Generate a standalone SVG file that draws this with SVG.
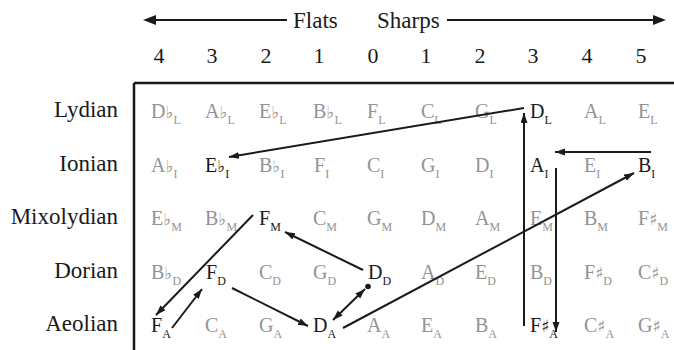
<svg xmlns="http://www.w3.org/2000/svg" width="674" height="350" viewBox="0 0 674 350">
<defs>
<marker id="ah" markerUnits="userSpaceOnUse" markerWidth="11" markerHeight="8" refX="10" refY="3.5" orient="auto-start-reverse"><path d="M0,0 L10,3.5 L0,7 z" fill="#1a1a1a"/></marker>
</defs>
<style>
text{font-family:"Liberation Serif","DejaVu Serif",serif}
.h{font-size:23px;fill:#1a1a1a}
.n{font-size:22px;fill:#1a1a1a;text-anchor:middle}
.r{font-size:23px;fill:#1a1a1a;text-anchor:end}
.c{font-size:20px}
.g{fill:#939393}
.k{fill:#1a1a1a}
.s{font-size:12px}
.a{font-family:"DejaVu Serif",serif;font-size:17px}
.ln{stroke:#1a1a1a;stroke-width:2;fill:none}
.ar{stroke:#1a1a1a;stroke-width:2;fill:none;marker-end:url(#ah)}
</style>
<rect width="674" height="350" fill="#fff"/>
<g id="header">
<line class="ln" x1="153" y1="20" x2="287" y2="20"/>
<path d="M143,20 L156,15 L156,25 z" fill="#1a1a1a"/>
<text class="h" x="293" y="28">Flats</text>
<text class="h" x="377" y="28">Sharps</text>
<line class="ln" x1="447" y1="20" x2="656" y2="20"/>
<path d="M666,20 L653,15 L653,25 z" fill="#1a1a1a"/>
<text class="n" x="159" y="63">4</text>
<text class="n" x="212" y="63">3</text>
<text class="n" x="266" y="63">2</text>
<text class="n" x="319" y="63">1</text>
<text class="n" x="373" y="63">0</text>
<text class="n" x="426" y="63">1</text>
<text class="n" x="480" y="63">2</text>
<text class="n" x="533" y="63">3</text>
<text class="n" x="587" y="63">4</text>
<text class="n" x="641" y="63">5</text>
</g>
<g id="frame">
<line x1="134" y1="83" x2="674" y2="83" stroke="#1a1a1a" stroke-width="2.5"/>
<line x1="134" y1="83" x2="134" y2="350" stroke="#1a1a1a" stroke-width="2.5"/>
</g>
<g id="rowlabels">
<text class="r" x="118" y="117">Lydian</text>
<text class="r" x="118" y="170.5">Ionian</text>
<text class="r" x="118" y="224">Mixolydian</text>
<text class="r" x="118" y="277.5">Dorian</text>
<text class="r" x="118" y="331">Aeolian</text>
</g>
<g id="lydian" class="c">
<text class="g" x="151" y="118">D<tspan class="a">♭</tspan><tspan class="s" dy="6">L</tspan></text>
<text class="g" x="205" y="118">A<tspan class="a">♭</tspan><tspan class="s" dy="6">L</tspan></text>
<text class="g" x="259" y="118">E<tspan class="a">♭</tspan><tspan class="s" dy="6">L</tspan></text>
<text class="g" x="313" y="118">B<tspan class="a">♭</tspan><tspan class="s" dy="6">L</tspan></text>
<text class="g" x="367" y="118">F<tspan class="s" dy="6">L</tspan></text>
<text class="g" x="421" y="118">C<tspan class="s" dy="6">L</tspan></text>
<text class="g" x="475" y="118">G<tspan class="s" dy="6">L</tspan></text>
<text class="k" x="530" y="118">D<tspan class="s" dy="6">L</tspan></text>
<text class="g" x="584" y="118">A<tspan class="s" dy="6">L</tspan></text>
<text class="g" x="638" y="118">E<tspan class="s" dy="6">L</tspan></text>
</g>
<g id="ionian" class="c">
<text class="g" x="151" y="171.5">A<tspan class="a">♭</tspan><tspan class="s" dy="6">I</tspan></text>
<text class="k" x="205" y="171.5">E<tspan class="a">♭</tspan><tspan class="s" dy="6">I</tspan></text>
<text class="g" x="259" y="171.5">B<tspan class="a">♭</tspan><tspan class="s" dy="6">I</tspan></text>
<text class="g" x="314" y="171.5">F<tspan class="s" dy="6">I</tspan></text>
<text class="g" x="367" y="171.5">C<tspan class="s" dy="6">I</tspan></text>
<text class="g" x="421" y="171.5">G<tspan class="s" dy="6">I</tspan></text>
<text class="g" x="475" y="171.5">D<tspan class="s" dy="6">I</tspan></text>
<text class="k" x="530" y="171.5">A<tspan class="s" dy="6">I</tspan></text>
<text class="g" x="584" y="171.5">E<tspan class="s" dy="6">I</tspan></text>
<text class="k" x="638" y="171.5">B<tspan class="s" dy="6">I</tspan></text>
</g>
<g id="mixolydian" class="c">
<text class="g" x="151" y="225">E<tspan class="a">♭</tspan><tspan class="s" dy="6">M</tspan></text>
<text class="g" x="205" y="225">B<tspan class="a">♭</tspan><tspan class="s" dy="6">M</tspan></text>
<text class="k" x="259" y="225">F<tspan class="s" dy="6">M</tspan></text>
<text class="g" x="313" y="225">C<tspan class="s" dy="6">M</tspan></text>
<text class="g" x="367" y="225">G<tspan class="s" dy="6">M</tspan></text>
<text class="g" x="421" y="225">D<tspan class="s" dy="6">M</tspan></text>
<text class="g" x="475" y="225">A<tspan class="s" dy="6">M</tspan></text>
<text class="g" x="530" y="225">E<tspan class="s" dy="6">M</tspan></text>
<text class="g" x="584" y="225">B<tspan class="s" dy="6">M</tspan></text>
<text class="g" x="638" y="225">F<tspan class="a">♯</tspan><tspan class="s" dy="6">M</tspan></text>
</g>
<g id="dorian" class="c">
<text class="g" x="151" y="278.5">B<tspan class="a">♭</tspan><tspan class="s" dy="6">D</tspan></text>
<text class="k" x="206" y="278.5">F<tspan class="s" dy="6">D</tspan></text>
<text class="g" x="259" y="278.5">C<tspan class="s" dy="6">D</tspan></text>
<text class="g" x="313" y="278.5">G<tspan class="s" dy="6">D</tspan></text>
<text class="k" x="368" y="278.5">D<tspan class="s" dy="6">D</tspan></text>
<text class="g" x="421" y="278.5">A<tspan class="s" dy="6">D</tspan></text>
<text class="g" x="475" y="278.5">E<tspan class="s" dy="6">D</tspan></text>
<text class="g" x="530" y="278.5">B<tspan class="s" dy="6">D</tspan></text>
<text class="g" x="584" y="278.5">F<tspan class="a">♯</tspan><tspan class="s" dy="6">D</tspan></text>
<text class="g" x="638" y="278.5">C<tspan class="a">♯</tspan><tspan class="s" dy="6">D</tspan></text>
</g>
<g id="aeolian" class="c">
<text class="k" x="151" y="332">F<tspan class="s" dy="6">A</tspan></text>
<text class="g" x="205" y="332">C<tspan class="s" dy="6">A</tspan></text>
<text class="g" x="259" y="332">G<tspan class="s" dy="6">A</tspan></text>
<text class="k" x="313" y="332">D<tspan class="s" dy="6">A</tspan></text>
<text class="g" x="367" y="332">A<tspan class="s" dy="6">A</tspan></text>
<text class="g" x="421" y="332">E<tspan class="s" dy="6">A</tspan></text>
<text class="g" x="475" y="332">B<tspan class="s" dy="6">A</tspan></text>
<text class="k" x="530" y="332">F<tspan class="a">♯</tspan><tspan class="s" dy="6">A</tspan></text>
<text class="g" x="584" y="332">C<tspan class="a">♯</tspan><tspan class="s" dy="6">A</tspan></text>
<text class="g" x="638" y="332">G<tspan class="a">♯</tspan><tspan class="s" dy="6">A</tspan></text>
</g>
<g id="connectors">
<line class="ar" x1="524" y1="108" x2="229" y2="157"/>
<line class="ar" x1="524" y1="326" x2="524" y2="113"/>
<line class="ar" x1="651" y1="152" x2="555" y2="152"/>
<line class="ar" x1="556" y1="168" x2="556" y2="332"/>
<line class="ar" x1="343" y1="328" x2="634" y2="173"/>
<line class="ar" x1="363" y1="270" x2="285" y2="232"/>
<line class="ar" x1="253" y1="215" x2="156" y2="315"/>
<line class="ar" x1="172" y1="328" x2="202" y2="289"/>
<line class="ar" x1="232" y1="288" x2="308" y2="326"/>
<line class="ar" x1="333" y1="320" x2="365" y2="289" style="marker-start:url(#ah)"/>
<circle cx="368" cy="286.5" r="2.8" fill="#1a1a1a"/>
</g>
</svg>
